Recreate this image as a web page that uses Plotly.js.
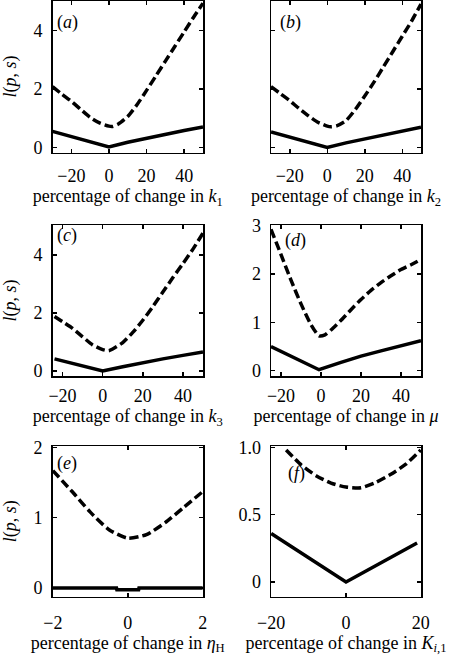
<!DOCTYPE html>
<html><head><meta charset="utf-8">
<script src="https://cdn.plot.ly/plotly-3.0.1.min.js"></script>
<style>html,body{margin:0;padding:0;background:#fff;}#chart{width:456px;height:662px;}</style>
</head><body><div id="chart"></div>
<script>
// ---- data ----
const aDashX = [-30, -25, -20, -15, -10, -5, 0, 2, 5, 10, 15, 20, 25, 30, 35, 40, 45, 50];
const aDashY = [2.08, 1.82, 1.58, 1.30, 1.03, 0.84, 0.73, 0.72, 0.80, 1.06, 1.47, 1.95, 2.45, 2.95, 3.45, 3.95, 4.45, 4.93];
const aSolX = [-30, -20, -10, 0, 10, 20, 30, 40, 50];
const aSolY = [0.55, 0.37, 0.19, 0.02, 0.18, 0.32, 0.45, 0.58, 0.70];

const bDashX = [-30, -25, -20, -15, -10, -5, 0, 2, 5, 10, 15, 20, 25, 30, 35, 40, 45, 50];
const bDashY = [2.08, 1.84, 1.60, 1.33, 1.08, 0.86, 0.73, 0.71, 0.74, 0.92, 1.30, 1.76, 2.24, 2.76, 3.28, 3.80, 4.32, 4.90];
const bSolX = [-30, -20, -10, 0, 10, 20, 30, 40, 50];
const bSolY = [0.53, 0.36, 0.18, 0.00, 0.16, 0.30, 0.44, 0.57, 0.69];

const cDashX = [-24, -20, -15, -10, -5, 0, 3, 5, 10, 15, 20, 25, 30, 35, 40, 45, 50];
const cDashY = [1.88, 1.70, 1.47, 1.18, 0.90, 0.74, 0.70, 0.76, 0.98, 1.33, 1.75, 2.22, 2.72, 3.22, 3.70, 4.20, 4.75];
const cSolX = [-24, -12, 0, 10, 20, 30, 40, 50];
const cSolY = [0.42, 0.22, 0.00, 0.15, 0.30, 0.42, 0.54, 0.66];

const dDashX = [-25, -20, -15, -10, -5, -1, 2, 5, 10, 15, 20, 25, 30, 35, 40, 45, 50];
const dDashY = [2.92, 2.40, 1.87, 1.38, 0.95, 0.72, 0.74, 0.84, 1.04, 1.26, 1.47, 1.66, 1.82, 1.96, 2.09, 2.19, 2.30];
const dSolX = [-25, -1, 10, 20, 30, 40, 50];
const dSolY = [0.50, 0.02, 0.17, 0.30, 0.41, 0.52, 0.62];

const eDashX = [-2, -1.5, -1, -0.5, 0, 0.5, 1, 1.5, 2];
const eDashY = [1.67, 1.38, 1.08, 0.83, 0.71, 0.76, 0.93, 1.15, 1.37];
const eSolX = [-2, -1, -0.3, -0.29, 0.29, 0.3, 1, 2];
const eSolY = [0.0, 0.0, 0.0, -0.025, -0.025, 0.0, 0.0, 0.0];

const fDashX = [-16, -12, -8, -4, 0, 4, 8, 12, 16, 20];
const fDashY = [0.98, 0.87, 0.79, 0.735, 0.705, 0.70, 0.74, 0.80, 0.875, 0.98];
const fSolX = [-20, 0, 19];
const fSolY = [0.36, 0.00, 0.29];

const panelLabels = ['a', 'b', 'c', 'd', 'e', 'f'];
const xTitles = [
  'percentage of change in <i>k</i><sub>1</sub>',
  'percentage of change in <i>k</i><sub>2</sub>',
  'percentage of change in <i>k</i><sub>3</sub>',
  'percentage of change in <i>μ</i>',
  'percentage of change in <i>η</i><sub>H</sub>',
  'percentage of change in <i>K</i><sub><i>i</i>,1</sub>'
];
const yTitle = '<i>l</i>(<i>p</i>, <i>s</i>)';
const xTickVals = [[-20, 0, 20, 40], [-20, 0, 20, 40], [-20, 0, 20, 40], [-20, 0, 20, 40], [-2, 0, 2], [-20, 0, 20]];
const yTickVals = [[0, 2, 4], [0, 2, 4], [0, 2, 4], [0, 1, 2, 3], [0, 1, 2], [0, 0.5, 1]];
const yTickText = [['0', '2', '4'], ['0', '2', '4'], ['0', '2', '4'], ['0', '1', '2', '3'], ['0', '1', '2'], ['0', '0.5', '1.0']];

// ---- layout config ----
const W = 456, H = 662;
const boxes = [ // [left, right, top, bottom] in px
  [52.5, 203, 0.5, 152.5], [271, 421, 0.5, 152.5],
  [52.5, 203, 225, 376], [271, 421, 225, 376],
  [52.5, 203, 446, 596.5], [271, 421, 446, 596.5]
];
const xRanges = [[-30, 50], [-30, 50], [-25, 50], [-25, 50], [-2.01, 2.01], [-20.05, 20.05]];
const yRanges = [[-0.17, 5.02], [-0.17, 5.02], [-0.17, 5.03], [-0.11, 3.01], [-0.12, 2.02], [-0.107, 1.01]];
const labelPos = [[55, 22], [278, 22], [55, 235], [283, 240], [55, 463], [286, 473]];
const xTickStandoff = [6, 6, 3, 3, 9, 9];
const xTitleStandoff = [5, 5, 4, 4, 2, 2];
const showYTitle = [true, false, true, false, true, false];
const showYLabels = [true, false, true, true, true, true];

const FONT = 'Liberation Serif';
const series = [
  [aDashX, aDashY, aSolX, aSolY], [bDashX, bDashY, bSolX, bSolY],
  [cDashX, cDashY, cSolX, cSolY], [dDashX, dDashY, dSolX, dSolY],
  [eDashX, eDashY, eSolX, eSolY], [fDashX, fDashY, fSolX, fSolY]
];

const traces = [];
const layout = {
  width: W, height: H, margin: {l: 0, r: 0, t: 0, b: 0},
  paper_bgcolor: '#fff', plot_bgcolor: 'rgba(0,0,0,0)',
  showlegend: false, font: {family: FONT, size: 17, color: '#000'},
  annotations: []
};

series.forEach((s, i) => {
  const n = i === 0 ? '' : String(i + 1);
  traces.push({x: s[2], y: s[3], xaxis: 'x' + n, yaxis: 'y' + n, mode: 'lines',
    line: {color: '#000', width: 3.5}, hoverinfo: 'skip'});
  traces.push({x: s[0], y: s[1], xaxis: 'x' + n, yaxis: 'y' + n, mode: 'lines',
    line: {color: '#000', width: 3.5, dash: '9px,4px', shape: 'spline', smoothing: 0.6}, hoverinfo: 'skip'});
  const b = boxes[i];
  const common = {showline: true, mirror: 'allticks', linecolor: '#000', linewidth: 1.5,
    ticks: 'inside', ticklen: 4, tickwidth: 1.5, tickcolor: '#000', showgrid: false, zeroline: false,
    tickfont: {family: FONT, size: 18, color: '#000'}, fixedrange: true};
  const xa = Object.assign({}, common, {
    domain: [b[0] / W, b[1] / W], anchor: 'y' + n, range: xRanges[i],
    tickmode: 'array', tickvals: xTickVals[i], ticklabelstandoff: xTickStandoff[i],
    title: {text: xTitles[i], font: {family: FONT, size: 18, color: '#000'}, standoff: xTitleStandoff[i]}
  });
  const ya = Object.assign({}, common, {
    domain: [1 - b[3] / H, 1 - b[2] / H], anchor: 'x' + n, range: yRanges[i],
    tickmode: 'array', tickvals: yTickVals[i], ticktext: yTickText[i],
    showticklabels: showYLabels[i], ticklabelstandoff: 5
  });
  if (showYTitle[i]) ya.title = {text: yTitle, font: {family: FONT, size: 18, color: '#000'}, standoff: 12};
  layout['xaxis' + n] = xa;
  layout['yaxis' + n] = ya;
  layout.annotations.push({
    text: '(<i>' + panelLabels[i] + '</i>)', xref: 'paper', yref: 'paper',
    x: labelPos[i][0] / W, y: 1 - labelPos[i][1] / H, xanchor: 'left', yanchor: 'middle',
    showarrow: false, font: {family: FONT, size: 18, color: '#000'}
  });
});

Plotly.newPlot('chart', traces, layout, {staticPlot: true, displayModeBar: false});
</script>
</body></html>
